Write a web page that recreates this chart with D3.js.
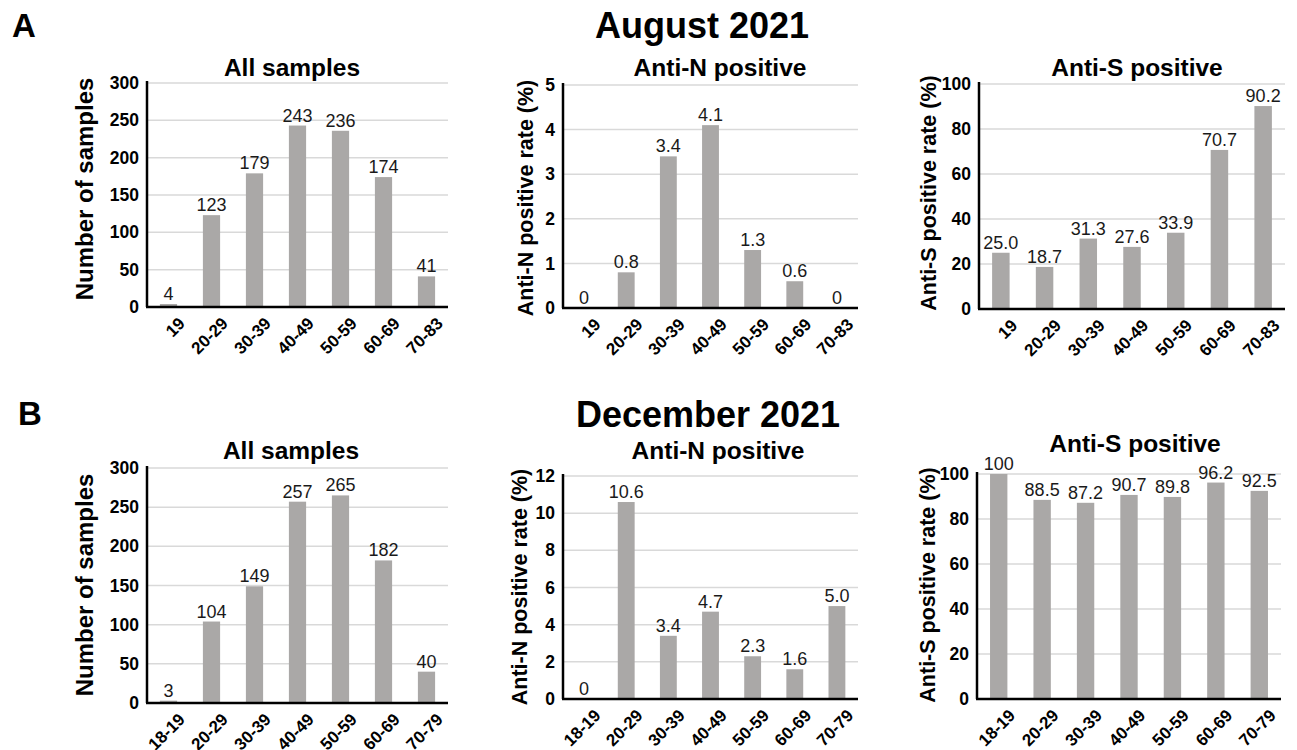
<!DOCTYPE html>
<html>
<head>
<meta charset="utf-8">
<script src="https://cdn.jsdelivr.net/npm/d3@7.9.0/dist/d3.min.js"></script>
<style>
  body { margin: 0; background: #fff; }
  svg { display: block; font-family: "Liberation Sans", Arial, sans-serif; }
</style>
</head>
<body>
<svg id="chart" width="1297" height="750"></svg>
<script>
// age groups
const augAges = ['19', '20-29', '30-39', '40-49', '50-59', '60-69', '70-83'];
const decAges = ['18-19', '20-29', '30-39', '40-49', '50-59', '60-69', '70-79'];

// August 2021
const augSamples = [4, 123, 179, 243, 236, 174, 41];
const augAntiN = [0, 0.8, 3.4, 4.1, 1.3, 0.6, 0];
const augAntiS = [25.0, 18.7, 31.3, 27.6, 33.9, 70.7, 90.2];

// December 2021
const decSamples = [3, 104, 149, 257, 265, 182, 40];
const decAntiN = [0, 10.6, 3.4, 4.7, 2.3, 1.6, 5.0];
const decAntiS = [100, 88.5, 87.2, 90.7, 89.8, 96.2, 92.5];

// y ticks
const countTicks = [0, 50, 100, 150, 200, 250, 300];
const augNTicks = [0, 1, 2, 3, 4, 5];
const decNTicks = [0, 2, 4, 6, 8, 10, 12];
const pctTicks = [0, 20, 40, 60, 80, 100];

const svg = d3.select('#chart');
const barColor = '#aaa8a7';
const gridColor = '#d9d9d9';
const font = '"Liberation Sans", Arial, sans-serif';

const fmtCount = v => String(v);
const fmtRate = v => (v === 0 || v === 100) ? String(v) : v.toFixed(1);

const panels = [
  { title: 'All samples', titleX: 292, titleY: 76, yLabel: 'Number of samples', yLabelSize: 24,
    labX: 93, labY: 189, x0: 147, x1: 448, top: 83, base: 307,
    cats: augAges, values: augSamples, ticks: countTicks, fmt: fmtCount },
  { title: 'Anti-N positive', titleX: 720, titleY: 76, yLabel: 'Anti-N positive rate (%)', yLabelSize: 21.5,
    labX: 533, labY: 198, x0: 563, x1: 858, top: 85, base: 308,
    cats: augAges, values: augAntiN, ticks: augNTicks, fmt: fmtRate },
  { title: 'Anti-S positive', titleX: 1137, titleY: 76, yLabel: 'Anti-S positive rate (%)', yLabelSize: 21.5,
    labX: 936, labY: 193, x0: 979, x1: 1285, top: 84, base: 309,
    cats: augAges, values: augAntiS, ticks: pctTicks, fmt: fmtRate },
  { title: 'All samples', titleX: 291, titleY: 459, yLabel: 'Number of samples', yLabelSize: 24,
    labX: 93, labY: 585, x0: 147, x1: 448, top: 468, base: 703,
    cats: decAges, values: decSamples, ticks: countTicks, fmt: fmtCount },
  { title: 'Anti-N positive', titleX: 718, titleY: 459, yLabel: 'Anti-N positive rate (%)', yLabelSize: 21.5,
    labX: 527, labY: 587, x0: 563, x1: 858, top: 476, base: 699,
    cats: decAges, values: decAntiN, ticks: decNTicks, fmt: fmtRate },
  { title: 'Anti-S positive', titleX: 1135, titleY: 452, yLabel: 'Anti-S positive rate (%)', yLabelSize: 21.5,
    labX: 935, labY: 585, x0: 977, x1: 1281, top: 474, base: 699,
    cats: decAges, values: decAntiS, ticks: pctTicks, fmt: fmtRate }
];

panels.forEach(p => {
  const g = svg.append('g');
  const x = d3.scaleBand().domain(p.cats).range([p.x0, p.x1])
    .paddingInner(0.6).paddingOuter(0.3);
  const y = d3.scaleLinear().domain([0, d3.max(p.ticks)]).range([p.base, p.top]);

  // gridlines
  g.selectAll('.grid').data(p.ticks.filter(t => t > 0)).join('line')
    .attr('x1', p.x0).attr('x2', p.x1)
    .attr('y1', d => y(d)).attr('y2', d => y(d))
    .attr('stroke', gridColor).attr('stroke-width', 1.5);

  // bars
  g.selectAll('.bar').data(p.values).join('rect')
    .attr('x', (d, i) => x(p.cats[i]))
    .attr('width', x.bandwidth())
    .attr('y', d => y(d))
    .attr('height', d => p.base - y(d))
    .attr('fill', barColor);

  // value labels
  g.selectAll('.val').data(p.values).join('text')
    .attr('x', (d, i) => x(p.cats[i]) + x.bandwidth() / 2)
    .attr('y', d => y(d) - 4)
    .attr('text-anchor', 'middle')
    .attr('font-size', 18)
    .attr('fill', '#1a1a1a')
    .text(d => p.fmt(d));

  // y axis
  const yAxis = g.append('g').attr('transform', `translate(${p.x0},0)`)
    .call(d3.axisLeft(y).tickValues(p.ticks).tickFormat(d3.format('d')).tickSize(0).tickPadding(8));
  yAxis.select('.domain').attr('stroke', '#000').attr('stroke-width', 2.5)
    .attr('d', `M0,${p.top - 2}V${p.base}`);
  yAxis.selectAll('text').attr('font-size', 17.5).attr('font-weight', 'bold')
    .attr('font-family', font).attr('fill', '#000');

  // x axis
  const xAxis = g.append('g').attr('transform', `translate(0,${p.base})`)
    .call(d3.axisBottom(x).tickSize(0));
  xAxis.select('.domain').attr('stroke', '#000').attr('stroke-width', 2.5)
    .attr('d', `M${p.x0 - 1},0H${p.x1}`);
  xAxis.selectAll('.tick text')
    .attr('font-size', 17).attr('font-weight', 'bold')
    .attr('font-family', font).attr('fill', '#000')
    .attr('text-anchor', 'end')
    .attr('x', 0).attr('y', 0).attr('dy', '0.71em')
    .attr('transform', 'translate(9,9) rotate(-45)');

  // titles
  g.append('text').attr('x', p.titleX).attr('y', p.titleY)
    .attr('text-anchor', 'middle').attr('font-size', 24.5).attr('font-weight', 'bold')
    .text(p.title);

  g.append('text')
    .attr('transform', `translate(${p.labX},${p.labY}) rotate(-90)`)
    .attr('text-anchor', 'middle').attr('font-size', p.yLabelSize).attr('font-weight', 'bold')
    .text(p.yLabel);
});

// month headers and panel letters
svg.append('text').attr('x', 702).attr('y', 38).attr('text-anchor', 'middle')
  .attr('font-size', 36).attr('font-weight', 'bold').text('August 2021');
svg.append('text').attr('x', 708).attr('y', 427).attr('text-anchor', 'middle')
  .attr('font-size', 36).attr('font-weight', 'bold').text('December 2021');
svg.append('text').attr('x', 12).attr('y', 37)
  .attr('font-size', 33).attr('font-weight', 'bold').text('A');
svg.append('text').attr('x', 18).attr('y', 425)
  .attr('font-size', 33).attr('font-weight', 'bold').text('B');
</script>
</body>
</html>
